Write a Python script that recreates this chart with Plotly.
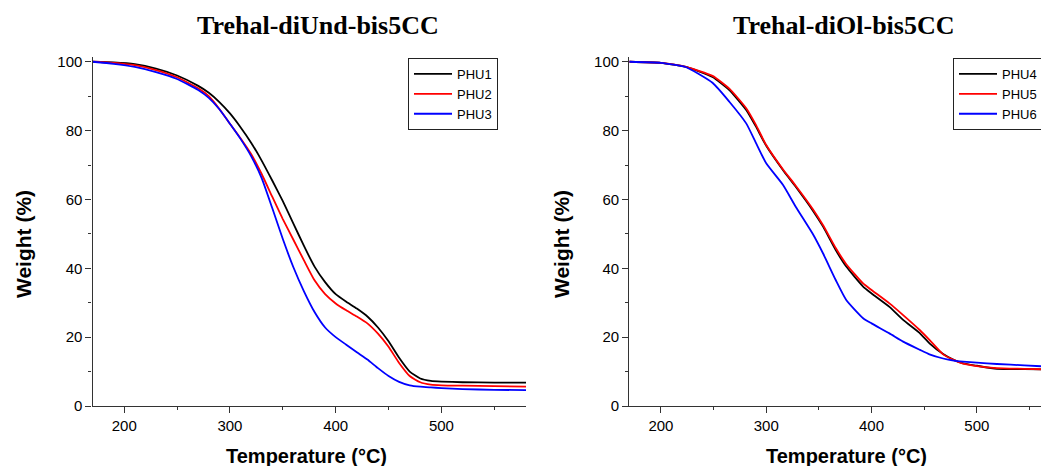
import plotly.graph_objects as go

# ---------------- data ----------------
temp_left = [170, 190, 210, 230, 250, 270, 280, 290, 300, 310, 320, 330, 340, 350,
             360, 370, 380, 390, 400, 410, 420, 430, 440, 450, 460, 470, 480, 490,
             500, 520, 550, 580]
phu1 = [100, 99.8, 99.3, 98.0, 96.0, 93.0, 91.0, 88.3, 85.0, 81.0, 76.5, 71.3, 65.5, 59.5,
        53.0, 46.5, 40.5, 36.0, 32.5, 30.3, 28.3, 26.0, 22.8, 18.8, 14.0, 10.0, 8.0, 7.3,
        7.1, 6.9, 6.8, 6.8]
phu2 = [100, 99.7, 99.0, 97.6, 95.5, 92.3, 90.0, 86.3, 82.0, 77.8, 73.2, 67.4, 60.8, 54.3,
        48.3, 42.3, 36.5, 32.5, 29.8, 27.8, 26.0, 24.0, 21.0, 17.2, 12.5, 8.7, 6.9, 6.2,
        6.0, 5.9, 5.8, 5.6]
phu3 = [100, 99.4, 98.5, 97.0, 95.0, 91.8, 89.5, 86.2, 82.0, 77.6, 72.6, 66.2, 57.5, 48.5,
        40.3, 33.3, 27.3, 22.8, 20.0, 17.8, 15.6, 13.5, 11.0, 8.7, 7.0, 6.0, 5.6, 5.4,
        5.2, 4.9, 4.7, 4.6]

temp_right = [170, 200, 224, 249, 265, 281, 290, 300, 316, 328, 344, 354, 366, 376,
              392, 400, 417, 430, 446, 455, 468, 478, 487, 500, 519, 545, 570]
phu4 = [100, 99.7, 98.5, 95.6, 91.8, 86.0, 81.3, 75.6, 68.5, 63.7, 56.9, 52.1, 45.3, 40.5,
        34.7, 32.7, 28.8, 25.0, 21.1, 18.2, 15.1, 13.4, 12.4, 11.7, 10.8, 10.7, 10.6]
phu5 = [100, 99.7, 98.5, 95.9, 92.2, 86.5, 81.8, 75.8, 68.7, 64.0, 57.3, 52.5, 45.9, 41.2,
        35.6, 33.7, 29.8, 26.4, 22.0, 19.2, 15.0, 13.4, 12.3, 11.6, 11.0, 10.8, 10.6]
phu6 = [100, 99.7, 98.4, 93.9, 88.4, 82.1, 76.6, 70.5, 64.2, 57.9, 50.1, 44.3, 36.6, 30.8,
        25.5, 24.0, 21.1, 18.7, 16.3, 15.0, 13.8, 13.2, 12.9, 12.6, 12.2, 11.8, 11.4]

left_names = ["PHU1", "PHU2", "PHU3"]
right_names = ["PHU4", "PHU5", "PHU6"]
colors = ["#000000", "#ff0000", "#0000ff"]
titles = ["Trehal-diUnd-bis5CC", "Trehal-diOl-bis5CC"]
x_title = "Temperature (°C)"
y_title = "Weight (%)"

# ---------------- layout geometry (pixels of the 1049x466 view) ----------------
OFF = 8                      # page body margin of the browser
W, H = 1049 - OFF, 466 - OFF
def px(x):
    return (x - OFF) / W
def py(y):
    return 1 - (y - OFF) / H

fig = go.Figure()

for name, ys, c in zip(left_names, [phu1, phu2, phu3], colors):
    fig.add_trace(go.Scatter(x=temp_left, y=ys, name=name, mode="lines",
                             line=dict(color=c, width=1.8, shape="spline", smoothing=0.5),
                             xaxis="x", yaxis="y", legend="legend"))
for name, ys, c in zip(right_names, [phu4, phu5, phu6], colors):
    fig.add_trace(go.Scatter(x=temp_right, y=ys, name=name, mode="lines",
                             line=dict(color=c, width=1.8, shape="spline", smoothing=0.5),
                             xaxis="x2", yaxis="y2", legend="legend2"))

tickfont = dict(family="Liberation Sans, Arial", size=15, color="#000")
axcommon = dict(showline=True, linecolor="#333", linewidth=1.3, ticks="outside",
                ticklen=6, tickwidth=1.2, tickcolor="#333", showgrid=False,
                zeroline=False, tickfont=tickfont, automargin=False)
minor_x = dict(dtick=50, ticks="outside", ticklen=3, tickcolor="#333")
minor_y = dict(dtick=10, ticks="outside", ticklen=3, tickcolor="#333")
legfont = dict(family="Liberation Sans, Arial", size=13, color="#000")

fig.update_layout(
    width=W, height=H,
    margin=dict(l=0, r=0, t=0, b=0),
    paper_bgcolor="white", plot_bgcolor="white",
    xaxis=dict(domain=[px(92.5), px(526)], range=[170, 580], dtick=100, tick0=0,
               anchor="y", minor=minor_x, **axcommon),
    yaxis=dict(domain=[py(406), py(57.3)], range=[0, 101.3], dtick=20, tick0=0,
               anchor="x", minor=minor_y, **axcommon),
    xaxis2=dict(domain=[px(629.3), 1.0], range=[170, 568.5], dtick=100, tick0=0,
                anchor="y2", minor=minor_x, **axcommon),
    yaxis2=dict(domain=[py(406), py(57.3)], range=[0, 101.3], dtick=20, tick0=0,
                anchor="x2", minor=minor_y, **axcommon),
    legend=dict(x=px(408), y=py(58), xanchor="left", yanchor="top",
                bordercolor="#222", borderwidth=1, bgcolor="white",
                font=legfont, tracegroupgap=0, itemwidth=38),
    legend2=dict(x=px(953), y=py(58), xanchor="left", yanchor="top",
                 bordercolor="#222", borderwidth=1, bgcolor="white",
                 font=legfont, tracegroupgap=0, itemwidth=38),
    showlegend=True,
)

ann = []
title_font = dict(family="Liberation Serif, Times New Roman", size=26, color="#000")
for t, cx in zip(titles, [317.5, 844.2]):
    ann.append(dict(text="<b>%s</b>" % t, x=px(cx), y=py(25), xref="paper", yref="paper",
                    showarrow=False, xanchor="center", yanchor="middle", font=title_font))
axis_font = dict(family="Liberation Sans, Arial", size=20, color="#000")
for cx in [306.7, 846.7]:
    ann.append(dict(text="<b>%s</b>" % x_title, x=px(cx), y=py(456), xref="paper",
                    yref="paper", showarrow=False, xanchor="center", yanchor="middle",
                    font=axis_font))
for cx in [23, 561]:
    ann.append(dict(text="<b>%s</b>" % y_title, x=px(cx), y=py(244), xref="paper",
                    yref="paper", showarrow=False, xanchor="center", yanchor="middle",
                    textangle=-90, font=dict(axis_font, size=21)))
fig.update_layout(annotations=ann)

fig.write_html("out.html")
